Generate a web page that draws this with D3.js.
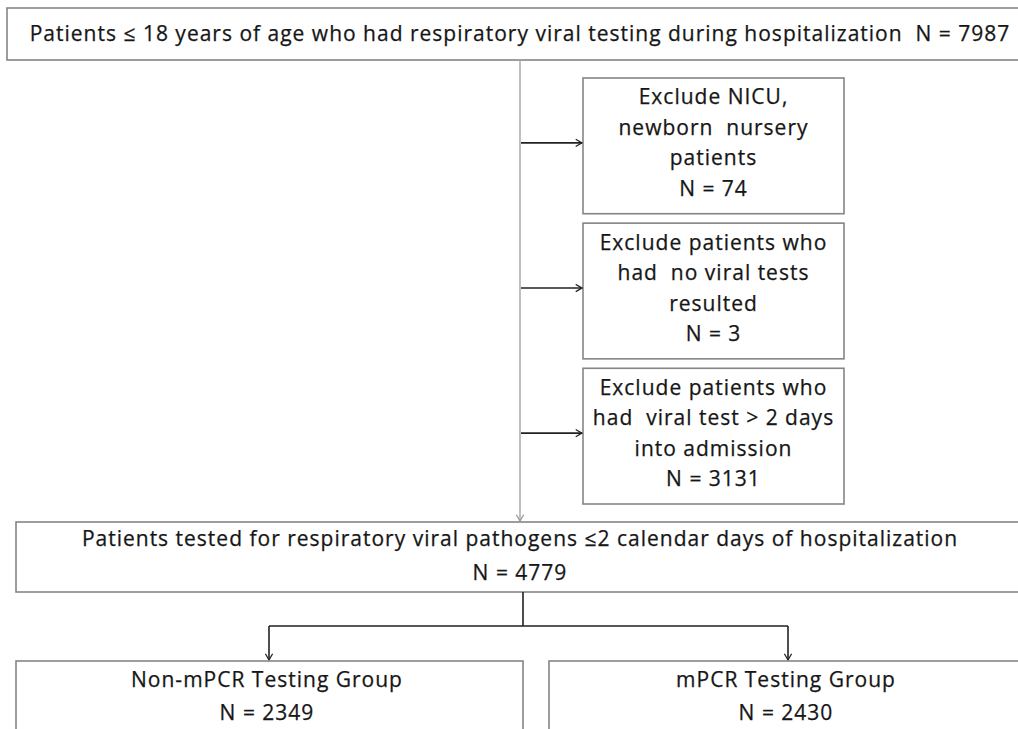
<!DOCTYPE html>
<html lang="en">
<head>
    <meta charset="UTF-8">
    <title>Patient flow</title>
    <style>
        body {
            margin: 0;
            padding: 0;
            background: #fff;
        }
        svg text {
            font-family: "Open Sans", Lato, sans-serif;
            fill: #161616;
            stroke: #161616;
            stroke-width: 0.25px;
            letter-spacing: 1px;
        }
        .box {
            fill: #fff;
            stroke: #858585;
            stroke-width: 1.6px;
        }
    </style>
</head>
<body>
    <div id="chart"></div>

    <script src="https://d3js.org/d3.v7.min.js"></script>
    <script>
        // data
        const topLabel = "Patients ≤ 18 years of age who had respiratory viral testing during hospitalization";
        const topN = 7987;
        const exclusionLabels = [
            ["Exclude NICU,", "newborn  nursery", "patients"],
            ["Exclude patients who", "had  no viral tests", "resulted"],
            ["Exclude patients who", "had  viral test > 2 days", "into admission"]
        ];
        const exclusionN = [74, 3, 3131];
        const studyLabel = "Patients tested for respiratory viral pathogens ≤2 calendar days of hospitalization";
        const studyN = 4779;
        const groupLabels = ["Non-mPCR Testing Group", "mPCR Testing Group"];
        const groupN = [2349, 2430];

        const width = 1018, height = 729;
        const axisX = 520;
        const fontSize = 21;

        const svg = d3.select("#chart").append("svg")
            .attr("width", width)
            .attr("height", height);

        const defs = svg.append("defs");
        function marker(id, color) {
            defs.append("marker")
                .attr("id", id)
                .attr("viewBox", "0 0 10 10")
                .attr("refX", 9).attr("refY", 5)
                .attr("markerWidth", 9).attr("markerHeight", 9)
                .attr("markerUnits", "userSpaceOnUse")
                .attr("orient", "auto")
                .append("path")
                .attr("d", "M2,1 L9,5 L2,9")
                .attr("fill", "none")
                .attr("stroke", color)
                .attr("stroke-width", 1.4);
        }
        marker("arrowDark", "#222");
        marker("arrowGray", "#999");

        const fmtN = n => "N = " + n;

        // multi-line centred text
        function lines(g, arr, cx, cy, lh) {
            const y0 = cy - (arr.length - 1) * lh / 2;
            g.selectAll(null)
                .data(arr)
                .enter().append("text")
                .attr("x", cx)
                .attr("y", (d, i) => y0 + i * lh)
                .attr("dy", "0.35em")
                .attr("text-anchor", "middle")
                .attr("font-size", fontSize + "px")
                .style("white-space", "pre")
                .text(d => d);
        }

        // top box
        const topBox = { x: 7, y: 8, h: 52 };
        svg.append("rect").attr("class", "box")
            .attr("x", topBox.x).attr("y", topBox.y)
            .attr("width", width + 20).attr("height", topBox.h);
        lines(svg, [topLabel + "  " + fmtN(topN)], axisX, topBox.y + topBox.h / 2, 0);

        // study box position
        const studyBox = { x: 16, y: 522, h: 70 };
        const groupTop = 661;
        const branchY = 626;

        // main gray line down
        svg.append("line")
            .attr("x1", axisX).attr("x2", axisX)
            .attr("y1", topBox.y + topBox.h).attr("y2", studyBox.y - 1)
            .attr("stroke", "#aaa").attr("stroke-width", 1.5)
            .attr("marker-end", "url(#arrowGray)");

        // exclusion boxes
        const exX0 = 583, exX1 = 844;
        const yEx = d3.scaleBand()
            .domain(d3.range(exclusionLabels.length))
            .range([78, 504])
            .paddingInner(0.065);

        const ex = svg.selectAll("g.ex")
            .data(exclusionLabels)
            .enter().append("g")
            .attr("class", "ex");

        ex.append("rect").attr("class", "box")
            .attr("x", exX0).attr("y", (d, i) => yEx(i))
            .attr("width", exX1 - exX0).attr("height", yEx.bandwidth());

        ex.append("line")
            .attr("x1", axisX + 1).attr("x2", exX0 - 1)
            .attr("y1", (d, i) => yEx(i) + yEx.bandwidth() / 2 - 3)
            .attr("y2", (d, i) => yEx(i) + yEx.bandwidth() / 2 - 3)
            .attr("stroke", "#222").attr("stroke-width", 1.6)
            .attr("marker-end", "url(#arrowDark)");

        ex.each(function (d, i) {
            lines(d3.select(this), d.concat([fmtN(exclusionN[i])]),
                (exX0 + exX1) / 2, yEx(i) + yEx.bandwidth() / 2 - 3, 30.5);
        });

        // study box
        svg.append("rect").attr("class", "box")
            .attr("x", studyBox.x).attr("y", studyBox.y)
            .attr("width", width + 20).attr("height", studyBox.h);
        lines(svg, [studyLabel, fmtN(studyN)], axisX, studyBox.y + studyBox.h / 2 - 1, 34);

        // groups
        const groupBoxes = [
            { x0: 16, x1: 523 },
            { x0: 549, x1: width + 20 }
        ];
        const groupCx = [269, 788];

        svg.append("path")
            .attr("d", `M${axisX + 3},${studyBox.y + studyBox.h} V${branchY} M${groupCx[0]},${branchY} H${groupCx[1]}`)
            .attr("fill", "none")
            .attr("stroke", "#222").attr("stroke-width", 1.6);

        svg.selectAll("line.drop")
            .data(groupCx)
            .enter().append("line")
            .attr("class", "drop")
            .attr("x1", d => d).attr("x2", d => d)
            .attr("y1", branchY).attr("y2", groupTop - 1)
            .attr("stroke", "#222").attr("stroke-width", 1.6)
            .attr("marker-end", "url(#arrowDark)");

        groupBoxes.forEach((b, i) => {
            svg.append("rect").attr("class", "box")
                .attr("x", b.x0).attr("y", groupTop)
                .attr("width", b.x1 - b.x0).attr("height", 120);
            lines(svg, [groupLabels[i], fmtN(groupN[i])], groupCx[i] - 2, 696, 33);
        });
    </script>
</body>
</html>
